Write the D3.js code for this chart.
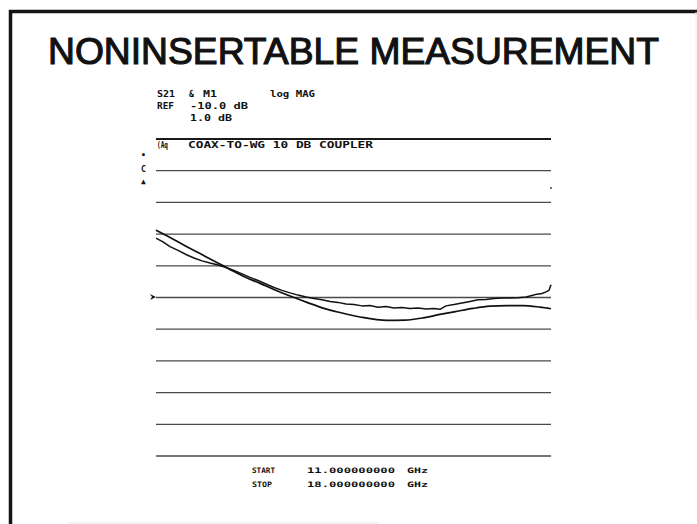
<!DOCTYPE html>
<html><head><meta charset="utf-8">
<script src="https://cdn.jsdelivr.net/npm/d3@7/dist/d3.min.js"></script>
<style>body{margin:0;background:#fff}svg{display:block}</style></head>
<body><svg id="c" width="697" height="524"></svg>
<script>
// ---- data ----
const chartTitle = "NONINSERTABLE MEASUREMENT";
const headerLabels = ["S21", "&", "M1", "log MAG", "REF", "-10.0 dB", "1.0 dB"];
const traceLabel = ["(Aq", "COAX-TO-WG 10 DB COUPLER"];
const statusFlags = ["\u2022", "C", "\u25B2"];
const startStopLabels = ["START", "STOP"];
const freqStart = 11.0, freqStop = 18.0;             // GHz
const freqText = ["11.000000000", "18.000000000"];
const freqUnit = "GHz";
const refLevel = -10.0, dbPerDiv = 1.0, nDiv = 10;
const gridLevels = [-15, -14, -13, -12, -11, -10, -9, -8, -7, -6, -5];

// smooth trace (dB vs GHz)
const smoothFreq = [11.000, 11.248, 11.514, 11.780, 12.046, 12.311, 12.577, 12.843, 13.109, 13.375,
  13.676, 13.960, 14.261, 14.615, 15.094, 15.413, 15.732, 16.033, 16.334, 16.618, 16.919, 17.220,
  17.504, 17.805, 18.000];
const smoothDb = [-7.89, -8.12, -8.38, -8.63, -8.88, -9.13, -9.37, -9.57, -9.78, -9.97,
  -10.17, -10.35, -10.49, -10.63, -10.74, -10.73, -10.66, -10.55, -10.45, -10.36, -10.29, -10.27,
  -10.27, -10.32, -10.37];

// noisy (measured) trace
const noisyFreq = [11.000, 11.124, 11.248, 11.390, 11.532, 11.673, 11.815, 11.957, 12.099, 12.241,
  12.382, 12.524, 12.666, 12.808, 12.949, 13.091, 13.233, 13.375, 13.516, 13.658, 13.800, 13.942,
  14.084, 14.225, 14.367, 14.509, 14.651, 14.792, 14.934, 15.076, 15.218, 15.359, 15.501, 15.643,
  15.785, 15.927, 16.033, 16.139, 16.281, 16.423, 16.565, 16.706, 16.848, 16.990, 17.132, 17.273,
  17.415, 17.557, 17.663, 17.752, 17.841, 17.911, 17.965, 18.000];
const noisyDb = [-8.14, -8.26, -8.41, -8.53, -8.66, -8.77, -8.86, -8.93, -8.99, -9.07,
  -9.16, -9.27, -9.38, -9.48, -9.59, -9.70, -9.79, -9.87, -9.94, -10.00, -10.05, -10.09,
  -10.14, -10.17, -10.22, -10.24, -10.28, -10.27, -10.32, -10.30, -10.35, -10.33, -10.36, -10.35,
  -10.38, -10.36, -10.39, -10.28, -10.24, -10.19, -10.14, -10.09, -10.08, -10.05, -10.03, -10.03,
  -10.02, -10.00, -9.95, -9.91, -9.89, -9.84, -9.79, -9.61];

// ---- drawing ----
const svg = d3.select("#c");
svg.append("rect").attr("width", 697).attr("height", 524).attr("fill", "#fff");

// slide frame
svg.append("path").attr("d", "M10.5,524 L10.5,11.5 L697,11.5")
  .attr("fill", "none").attr("stroke", "#141414").attr("stroke-width", 3.5);
svg.append("line").attr("x1", 696).attr("x2", 696).attr("y1", 12).attr("y2", 320)
  .attr("stroke", "#ececec").attr("stroke-width", 1);
svg.append("line").attr("x1", 68).attr("x2", 378).attr("y1", 523).attr("y2", 523)
  .attr("stroke", "#e2e2e2").attr("stroke-width", 1);

// title
svg.append("text").text(chartTitle)
  .attr("x", 48).attr("y", 64)
  .attr("textLength", 611).attr("lengthAdjust", "spacingAndGlyphs")
  .attr("font-family", "Liberation Sans, Arial, sans-serif").attr("font-size", 36)
  .attr("fill", "#111").attr("stroke", "#111").attr("stroke-width", 1.1);

const x = d3.scaleLinear().domain([freqStart, freqStop]).range([156, 551]);
const y = d3.scaleLinear().domain([refLevel - dbPerDiv * nDiv / 2, refLevel + dbPerDiv * nDiv / 2])
  .range([455.5, 138.5]);

// graticule via axis
const gAxis = svg.append("g").attr("transform", `translate(${x(freqStart)},0)`)
  .call(d3.axisLeft(y).tickValues(gridLevels).tickSize(-(x(freqStop) - x(freqStart))).tickFormat(""));
gAxis.select(".domain").remove();
gAxis.selectAll(".tick line")
  .attr("stroke", d => d === gridLevels[gridLevels.length - 1] ? "#1a1a1a" : "#4a4a4a")
  .attr("stroke-width", d => d === gridLevels[gridLevels.length - 1] ? 2 : 1.3);

// reference marker
svg.append("path")
  .attr("d", `M${x(freqStart) - 6},${y(refLevel) - 3} L${x(freqStart)},${y(refLevel)} L${x(freqStart) - 6},${y(refLevel) + 3} L${x(freqStart) - 4},${y(refLevel)} Z`)
  .attr("fill", "#111");
// right edge small dot
svg.append("circle").attr("cx", x(freqStop)).attr("cy", 188).attr("r", 0.9).attr("fill", "#333");

// traces
const smooth = d3.line().x(d => x(d[0])).y(d => y(d[1])).curve(d3.curveMonotoneX);
const jag = d3.line().x(d => x(d[0])).y(d => y(d[1])).curve(d3.curveLinear);
svg.append("path").datum(d3.zip(smoothFreq, smoothDb)).attr("d", smooth)
  .attr("fill", "none").attr("stroke", "#111").attr("stroke-width", 1.7);
svg.append("path").datum(d3.zip(noisyFreq, noisyDb)).attr("d", jag)
  .attr("fill", "none").attr("stroke", "#111").attr("stroke-width", 1.5).attr("stroke-linejoin", "round");

// header texts (instrument annotations)
const mono = "DejaVu Sans Mono, monospace";
function lab(t, px, py, w, fs) {
  const e = svg.append("text").text(t).attr("x", px).attr("y", py)
    .attr("font-family", mono).attr("font-weight", "bold").attr("font-size", fs || 8.5)
    .attr("fill", "#111");
  if (w) e.attr("textLength", w).attr("lengthAdjust", "spacingAndGlyphs");
  return e;
}
lab(headerLabels[0], 157, 97, 18);
lab(headerLabels[1], 189, 97, 5);
lab(headerLabels[2], 203, 97, 14);
lab(headerLabels[3], 270, 97, 45);
lab(headerLabels[4], 157, 109, 17);
lab(headerLabels[5], 190, 109, 58);
lab(headerLabels[6], 190, 121, 42);
lab(traceLabel[0], 157, 148, 11);
lab(traceLabel[1], 188, 148, 185);
statusFlags.forEach((f, i) => lab(f, 141, [158, 172, 184][i], null, 8));

// start / stop
[0, 1].forEach(i => {
  const py = [473, 487][i];
  lab(startStopLabels[i], 252, py, i === 0 ? 23 : 20, 7.5);
  lab(freqText[i], 307, py, 88, 7.5);
  lab(freqUnit, 407, py, 21, 7.5);
});
</script></body></html>
